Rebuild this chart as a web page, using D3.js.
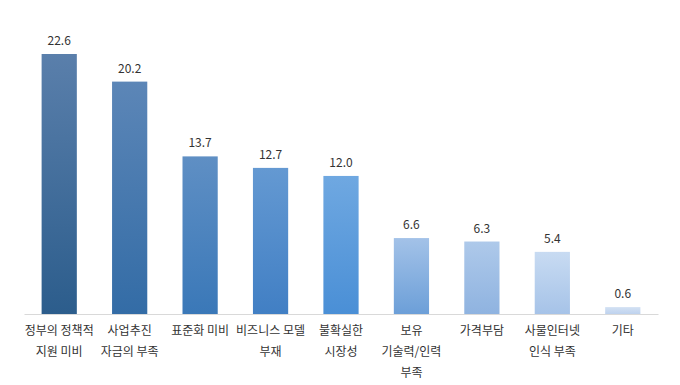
<!DOCTYPE html>
<html>
<head>
<meta charset="utf-8">
<script src="https://cdn.jsdelivr.net/npm/d3@7"></script>
<style>
  body { margin: 0; background: #fff; }
  text { font-family: "Noto Sans CJK KR", "Noto Sans", sans-serif; fill: #333; }
</style>
</head>
<body>
<div id="chart"></div>
<script>
// data
const categories = ["정부의 정책적\n지원 미비", "사업추진\n자금의 부족", "표준화 미비", "비즈니스 모델\n부재",
  "불확실한\n시장성", "보유\n기술력/인력\n부족", "가격부담", "사물인터넷\n인식 부족", "기타"];
const values = [22.6, 20.2, 13.7, 12.7, 12.0, 6.6, 6.3, 5.4, 0.6];

// per-bar gradient colours, top -> bottom
const topColors = ["#5a7fab", "#5c86b7", "#5f8fc4", "#6499d2", "#6fa8e1", "#a3c2e8", "#aec9ea", "#c8dbf2", "#d3e1f3"];
const bottomColors = ["#2c5d8c", "#336ca6", "#3a78b8", "#417fc4", "#4a8fd6", "#6c9fd8", "#8fb3e0", "#a6c3e8", "#bed2ee"];

const W = 680, H = 385;
const margin = { top: 20, right: 20, bottom: 71, left: 24 };
const width = W - margin.left - margin.right;
const height = H - margin.top - margin.bottom;

const svg = d3.select("#chart").append("svg")
    .attr("width", W)
    .attr("height", H)
  .append("g")
    .attr("transform", `translate(${margin.left},${margin.top})`);

const x = d3.scaleBand()
    .domain(categories)
    .range([0, 634])
    .paddingInner(0.5)
    .paddingOuter(0.25);

const y = d3.scaleLinear()
    .domain([0, 22.6])
    .range([height, height - 260]);

// gradients
const defs = svg.append("defs");
categories.forEach((c, i) => {
    const g = defs.append("linearGradient")
        .attr("id", "grad" + i)
        .attr("x1", 0).attr("y1", 0).attr("x2", 0).attr("y2", 1);
    g.append("stop").attr("offset", "0%").attr("stop-color", topColors[i]);
    g.append("stop").attr("offset", "100%").attr("stop-color", bottomColors[i]);
});

// baseline axis
const axis = svg.append("g")
    .attr("transform", `translate(0,${height})`)
    .call(d3.axisBottom(x).tickSize(0).tickFormat(""));
axis.select(".domain").attr("stroke", "#d9d9d9").attr("stroke-width", 1);

// bars
svg.selectAll(".bar")
    .data(values)
    .enter().append("rect")
    .attr("class", "bar")
    .attr("x", (d, i) => x(categories[i]))
    .attr("y", d => y(d))
    .attr("width", x.bandwidth())
    .attr("height", d => y(0) - y(d))
    .attr("fill", (d, i) => `url(#grad${i})`);

// value labels
svg.selectAll(".val")
    .data(values)
    .enter().append("text")
    .attr("class", "val")
    .attr("x", (d, i) => x(categories[i]) + x.bandwidth() / 2)
    .attr("y", d => y(d) - 9)
    .attr("text-anchor", "middle")
    .style("font-size", "12px")
    .text(d => d.toFixed(1));

// category labels
const lab = svg.selectAll(".cat")
    .data(categories)
    .enter().append("text")
    .attr("class", "cat")
    .attr("text-anchor", "middle")
    .attr("x", d => x(d) + x.bandwidth() / 2)
    .attr("y", height + 21)
    .style("font-size", "12px");
lab.each(function (d) {
    const t = d3.select(this);
    d.split("\n").forEach((line, j) => {
        t.append("tspan")
            .attr("x", x(d) + x.bandwidth() / 2)
            .attr("dy", j === 0 ? 0 : 21)
            .text(line);
    });
});
</script>
</body>
</html>
